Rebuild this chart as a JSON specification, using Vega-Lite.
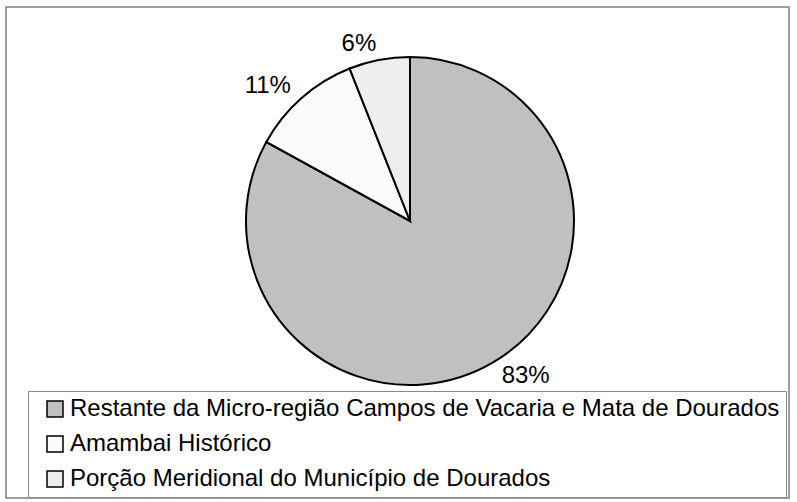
{
  "$schema": "https://vega.github.io/schema/vega-lite/v6.json",
  "width": 783,
  "height": 491,
  "autosize": {"type": "none"},
  "padding": {"left": 6, "top": 7, "right": 8, "bottom": 4},
  "background": "white",
  "view": {"stroke": "#7f7f7f", "strokeWidth": 1.5, "fill": "white"},
  "config": {
    "view": {"stroke": "#7f7f7f", "strokeWidth": 1.5},
    "font": "Liberation Sans"
  },
  "data": {
    "values": [
      {"regiao": "Restante da Micro-região Campos de Vacaria e Mata de Dourados", "pct": 0.83, "ord": 1},
      {"regiao": "Amambai Histórico", "pct": 0.11, "ord": 2},
      {"regiao": "Porção Meridional do Município de Dourados", "pct": 0.06, "ord": 3}
    ]
  },
  "encoding": {
    "theta": {"field": "pct", "type": "quantitative", "stack": true},
    "order": {"field": "ord", "type": "quantitative"}
  },
  "layer": [
    {
      "mark": {"type": "arc", "x": 404, "y": 214, "outerRadius": 164, "stroke": "black", "strokeWidth": 2},
      "encoding": {
        "color": {
          "field": "regiao",
          "type": "nominal",
          "scale": {
            "domain": ["Restante da Micro-região Campos de Vacaria e Mata de Dourados", "Amambai Histórico", "Porção Meridional do Município de Dourados"],
            "range": ["#c0c0c0", "#fbfbfb", "#eeeeee"]
          },
          "legend": {
            "title": null,
            "orient": "none",
            "legendX": 22,
            "legendY": 384,
            "direction": "vertical",
            "padding": 6,
            "symbolOffset": 9,
            "strokeColor": "#888888",
            "symbolType": "square",
            "symbolSize": 256,
            "symbolStrokeColor": "black",
            "symbolStrokeWidth": 1.5,
            "symbolOpacity": 1,
            "labelFont": "Liberation Sans",
            "labelFontSize": 24,
            "labelColor": "black",
            "labelOffset": 3,
            "labelLimit": 0,
            "rowPadding": 11
          }
        }
      }
    },
    {
      "mark": {"type": "text", "x": 404, "y": 214, "radius": 180, "fontSize": 24, "font": "Liberation Sans", "color": "black",
        "align": {"expr": "datum.pct > 0.5 ? 'left' : 'right'"}, "baseline": "middle"},
      "encoding": {
        "text": {"field": "pct", "type": "quantitative", "format": ".0%"}
      }
    }
  ]
}
